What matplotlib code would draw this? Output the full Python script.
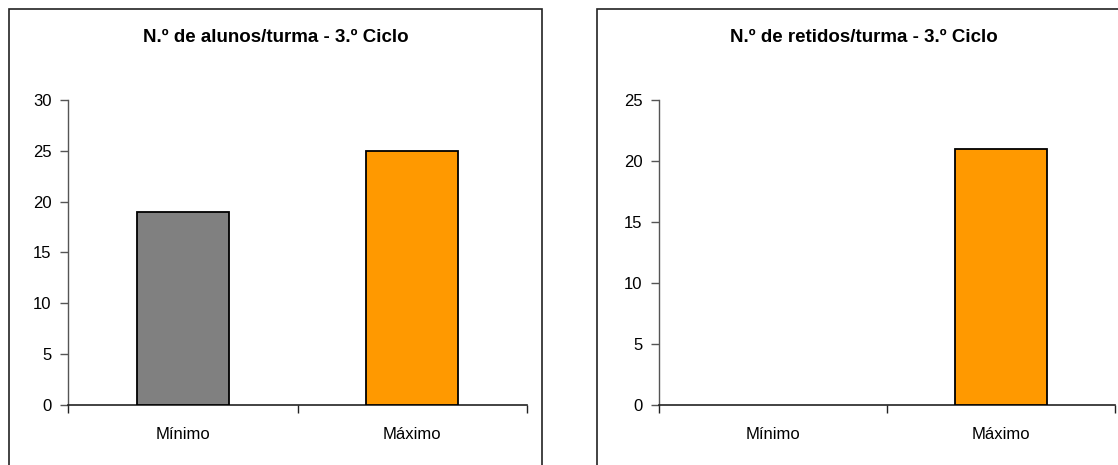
import matplotlib.pyplot as plt
from matplotlib.patches import Rectangle

plt.rcParams['font.family'] = ['Liberation Sans', 'DejaVu Sans']

# Category labels and values for both panels
categorias = ['Mínimo', 'Máximo']
alunos = [19, 25]
retidos = [0, 21]
cores = ['#808080', '#FF9900']
titulo_alunos = 'N.º de alunos/turma - 3.º Ciclo'
titulo_retidos = 'N.º de retidos/turma - 3.º Ciclo'

W, H = 1118, 465
fig = plt.figure(figsize=(W / 100, H / 100), dpi=100)


def px(x, y):
    return x / W, 1 - y / H


def painel(frame_x0, frame_x1, ax_x0, ax_x1, valores, cores_barras, ymax, passo, titulo):
    # outer chart frame (runs past the bottom edge of the figure)
    fx0, fy_top = px(frame_x0, 9)
    fig.patches.append(Rectangle((fx0, -0.2), (frame_x1 - frame_x0) / W, fy_top + 0.2,
                                 transform=fig.transFigure, fill=False,
                                 edgecolor='#222222', linewidth=1.2))
    fig.text((frame_x0 + frame_x1) / 2 / W, 1 - 37 / H, titulo, ha='center', va='center',
             fontsize=13.5, fontweight='bold')

    ax_top = 100
    ax = fig.add_axes([ax_x0 / W, 1 - 405 / H, (ax_x1 - ax_x0) / W, (405 - ax_top) / H])
    x = range(len(categorias))
    # zero-height bars get no outline so they don't thicken the axis line
    larguras = [1.3 if v > 0 else 0 for v in valores]
    ax.bar(x, valores, width=0.4, color=cores_barras, edgecolor='black',
           linewidth=larguras, zorder=3)
    ax.set_xlim(-0.5, len(categorias) - 0.5)
    ax.set_ylim(0, ymax)
    ax.set_yticks(range(0, ymax + 1, passo))
    ax.tick_params(axis='y', direction='out', length=6, width=1, color='#555555',
                   labelsize=12, pad=6)

    # tick marks between categories, labels at category centres
    ax.set_xticks([i - 0.5 for i in range(len(categorias) + 1)])
    ax.set_xticklabels([])
    ax.tick_params(axis='x', which='major', direction='out', length=6, width=1,
                   color='#222222')
    ax.set_xticks(list(x), minor=True)
    ax.set_xticklabels(categorias, minor=True)
    ax.tick_params(axis='x', which='minor', length=0, labelsize=12, pad=16)

    for s in ['top', 'right']:
        ax.spines[s].set_visible(False)
    ax.spines['left'].set_color('#555555')
    ax.spines['bottom'].set_color('#222222')
    ax.spines['left'].set_linewidth(1)
    ax.spines['bottom'].set_linewidth(1.2)
    return ax


painel(9, 542, 68, 527, alunos, cores, 30, 5, titulo_alunos)
painel(597, 1130, 659, 1115, retidos, cores, 25, 5, titulo_retidos)

fig.savefig('out.png', dpi=100)
